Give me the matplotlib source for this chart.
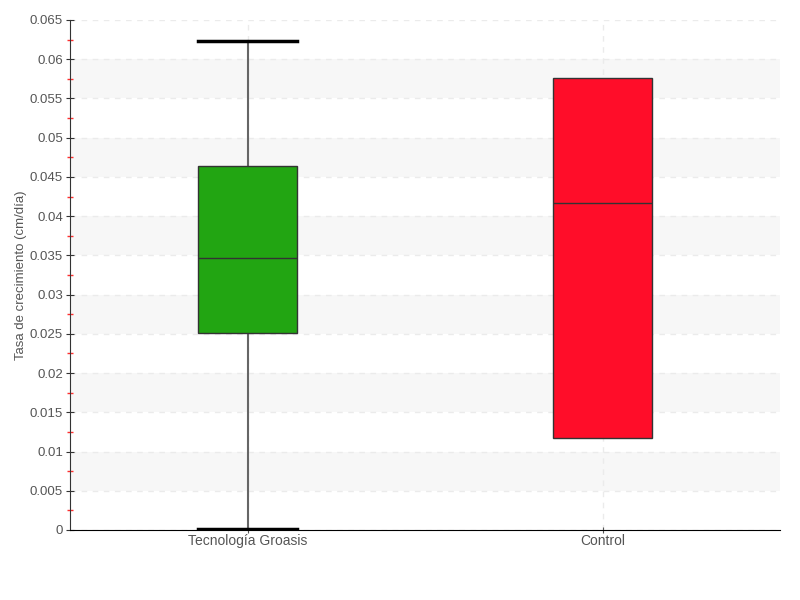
import matplotlib
matplotlib.use("Agg")
import matplotlib.pyplot as plt
import numpy as np

# box statistics
groups = ["Tecnología Groasis", "Control"]
whislo = [0.0001, 0.0117]
q1 = [0.0251, 0.0117]
med = [0.0347, 0.0417]
q3 = [0.0464, 0.0576]
whishi = [0.0623, 0.0576]
colors = ["#22a512", "#ff0d29"]

plt.rcParams['font.family'] = ['Liberation Sans', 'DejaVu Sans']

fig = plt.figure(figsize=(8, 6), dpi=100)
ax = fig.add_axes([0.0875, 0.1167, 0.8875, 0.85])

# alternating bands
for lo in np.arange(0.005, 0.065, 0.01):
    ax.axhspan(lo, lo + 0.005, color="#f7f7f7", zorder=0, lw=0)

stats = []
for i, name in enumerate(groups):
    stats.append(dict(label=name, whislo=whislo[i], q1=q1[i], med=med[i],
                      q3=q3[i], whishi=whishi[i], fliers=[]))

pos = np.arange(1, len(groups) + 1)
bp = ax.bxp(stats, positions=pos, widths=0.28, patch_artist=True,
            showfliers=False,
            boxprops=dict(edgecolor="#333333", linewidth=1),
            medianprops=dict(color="#333333", linewidth=1),
            whiskerprops=dict(color="#666666", linewidth=1.5),
            capprops=dict(color="black", linewidth=2.5),
            capwidths=0.28)
for patch, c in zip(bp["boxes"], colors):
    patch.set_facecolor(c)
    patch.set_zorder(3)
for m in bp["medians"]:
    m.set_zorder(4)
for i in range(len(groups)):
    if whislo[i] == q1[i] and whishi[i] == q3[i]:
        for w in bp["whiskers"][2 * i:2 * i + 2]:
            w.set_visible(False)
        for c in bp["caps"][2 * i:2 * i + 2]:
            c.set_visible(False)

ax.set_xlim(0.5, len(groups) + 0.5)
ax.set_ylim(0, 0.065)
ax.set_yticks(np.arange(0, 0.0651, 0.005))
ax.set_yticklabels(["0"] + ["%g" % v for v in np.arange(0.005, 0.0651, 0.005)])
ax.set_yticks(np.arange(0.0025, 0.065, 0.005), minor=True)
ax.set_xticks(pos)
ax.set_xticklabels(groups)

ax.grid(True, axis="both", which="major", linestyle=(0, (4, 4)),
        color="#ebebeb", linewidth=1, zorder=1)
ax.set_axisbelow(True)

for s in ["top", "right"]:
    ax.spines[s].set_visible(False)
ax.spines["left"].set_color("#333333")
ax.spines["bottom"].set_color("black")

ax.tick_params(axis="y", which="major", direction="inout", length=6,
               color="#333333", labelsize=9.5, labelcolor="#555555", pad=2)
ax.tick_params(axis="y", which="minor", direction="inout", length=4,
               width=1, color="#ff3030")
ax.tick_params(axis="x", which="major", direction="inout", length=4,
               color="#555555", labelsize=10, labelcolor="#555555", pad=1)

ax.set_ylabel("Tasa de crecimiento (cm/día)", fontsize=9.5, color="#555555")
ax.yaxis.set_label_coords(-0.06, 0.5)

fig.savefig("out.png", dpi=100)
